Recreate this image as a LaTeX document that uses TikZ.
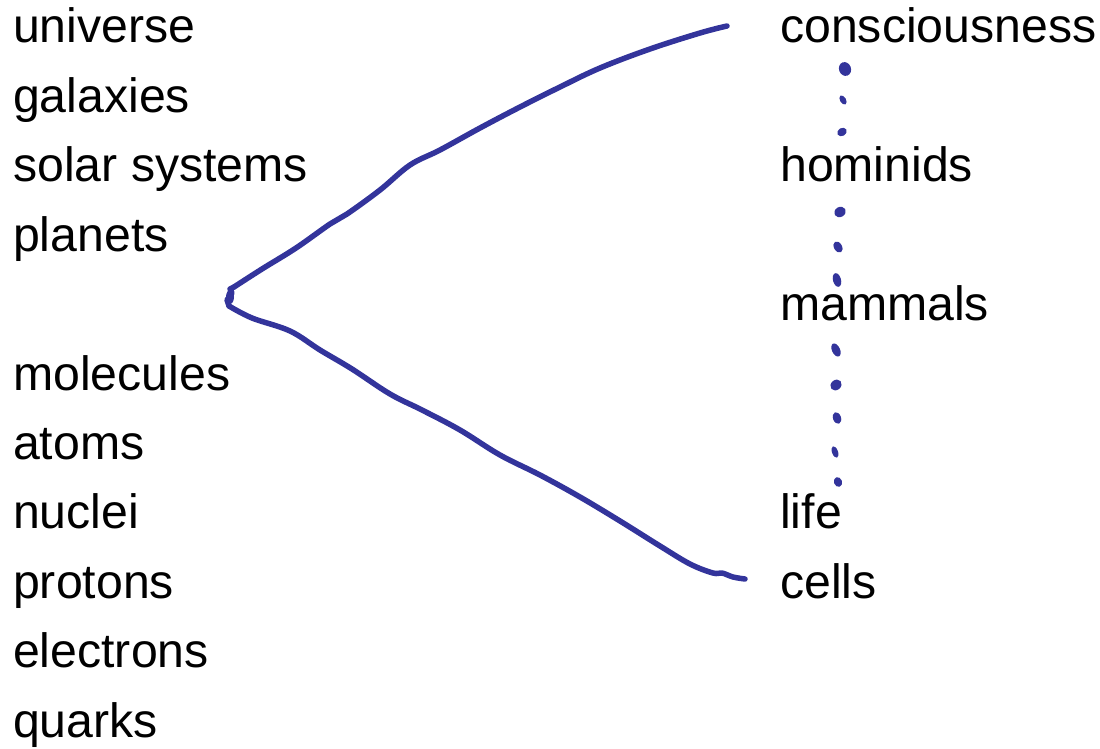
\documentclass[tikz,border=0pt]{standalone}
\usepackage{fontspec}
\setmainfont{Liberation Sans}
\definecolor{ink}{RGB}{51,52,155}
\begin{document}
\begin{tikzpicture}[x=1pt,y=-1pt,
  lbl/.style={anchor=base west,inner sep=0pt,font=\fontsize{48.2}{48}\selectfont},
  stroke/.style={draw=ink,line width=5.5pt,line cap=round,line join=round},
  dot/.style={fill=ink,draw=none}]
\useasboundingbox (0,0) rectangle (1100,749);
% left column
\node[lbl] (universe) at (13,43) {universe};
\node[lbl] (galaxies) at (13,112.4) {galaxies};
\node[lbl] (solar) at (13,181.8) {solar systems};
\node[lbl] (planets) at (13,251.2) {planets};
\node[lbl] (molecules) at (13,390) {molecules};
\node[lbl] (atoms) at (13,459.4) {atoms};
\node[lbl] (nuclei) at (13,528.8) {nuclei};
\node[lbl] (protons) at (13,598.2) {protons};
\node[lbl] (electrons) at (13,667.6) {electrons};
\node[lbl] (quarks) at (13,737) {quarks};
% right column
\node[lbl] (consc) at (780,43) {consciousness};
\node[lbl] (hominids) at (780,181.8) {hominids};
\node[lbl] (mammals) at (780,320.6) {mammals};
\node[lbl] (life) at (780,528.8) {life};
\node[lbl] (cells) at (780,598.2) {cells};
% curves
\coordinate (forkA) at (234,287);
\coordinate (forkB) at (229,306);
\coordinate (topend) at (727,26);
\coordinate (botend) at (745,579);
\draw[stroke] (forkB) -- (227,300) -- (232,293) -- (230,289) -- (forkA);
\fill[ink] (230,297) ellipse (4pt and 7pt);
\draw[stroke] plot[smooth,tension=0.6] coordinates {(forkA) (262,269) (296,248) (330,224) (347,214) (380,190) (410,165) (440,150) (480,128) (520,107) (560,87) (600,68) (650,49) (700,33) (topend)};
\draw[stroke] plot[smooth,tension=0.6] coordinates {(forkB) (252,318) (290,331) (320,350) (352,369) (390,394) (422,410) (460,430) (500,455) (540,475) (580,497) (620,521) (660,546) (690,564) (713,573) (722,573) (733,577) (botend)};
% dotted links
\foreach \x/\y/\a/\b/\r in {845/69/6/7/20, 843/100/3/5/30, 842/132/5/4/30,
  840/212/6/5/30, 838/247/4/6/30, 837/280/4/7/15,
  836/350/4/7/25, 836/385/6/5/40, 837/418/4/6/20, 835/452/3/6/20, 838/482/4/5/20}
  \fill[dot,rotate around={\r:(\x,\y)}] (\x,\y) ellipse ({\a pt} and {\b pt});
\end{tikzpicture}
\end{document}
